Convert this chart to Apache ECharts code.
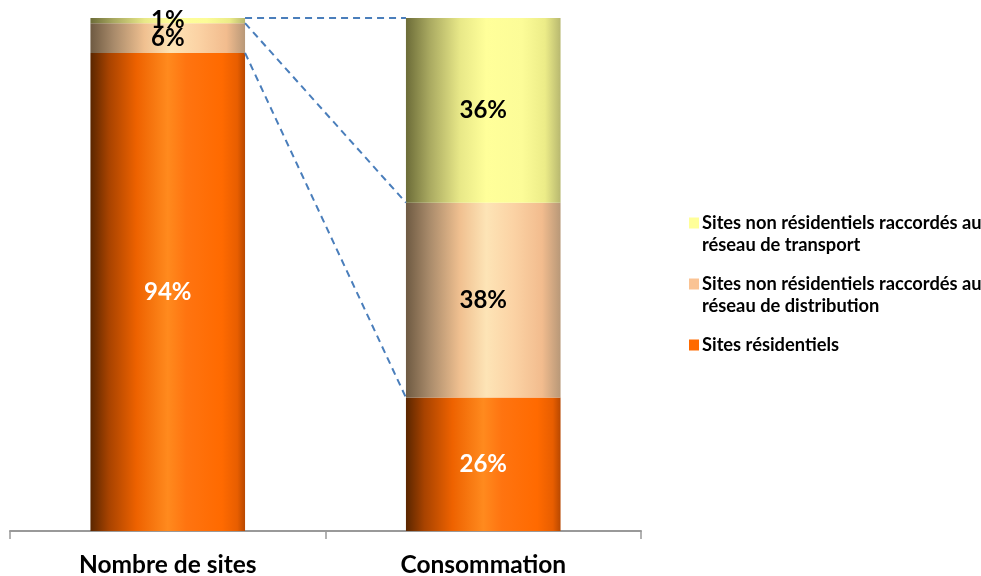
<!DOCTYPE html>
<html><head><meta charset="utf-8">
<script src="https://cdn.jsdelivr.net/npm/echarts@6/dist/echarts.min.js"></script>
<style>html,body{margin:0;padding:0;background:#fff}#c{width:981px;height:576px}</style>
</head><body><div id="c"></div>
<script>
var categories = ['Nombre de sites', 'Consommation'];
var seriesNames = [
  'Sites résidentiels',
  'Sites non résidentiels raccordés au\nréseau de distribution',
  'Sites non résidentiels raccordés au\nréseau de transport'
];
var residentiel = [93.2, 26];
var distribution = [5.8, 38];
var transport = [1.0, 36];
var labelsResidentiel = ['94%', '26%'];
var labelsDistribution = ['6%', '38%'];
var labelsTransport = ['1%', '36%'];

var FONT = 'Lato, "Open Sans", sans-serif';
function grad(stops){
  return new echarts.graphic.LinearGradient(0,0,1,0, stops.map(function(s){return {offset:s[0],color:s[1]};}));
}
var orangeG = grad([[0,'#5a2600'],[0.12,'#a84300'],[0.3,'#ee6200'],[0.5,'#ff8a1e'],[0.62,'#ff7410'],[0.85,'#ff6a00'],[0.95,'#e85e00'],[1,'#b84800']]);
var peachG = grad([[0,'#6e5a42'],[0.15,'#a88a6a'],[0.35,'#f0c090'],[0.52,'#fde4b6'],[0.7,'#fbd2a4'],[0.88,'#f2bc8e'],[1,'#b89878']]);
var yellowG = grad([[0,'#6c6c38'],[0.15,'#a8a860'],[0.35,'#e8e888'],[0.52,'#ffff9a'],[0.75,'#fcfc98'],[0.9,'#ecec88'],[1,'#b8b870']]);
var legendColors = ['#ff6a00', '#fac394', '#ffff99'];

function mkBar(name, data, labels, fill, labelColor){
  return {
    type:'bar', name:name, stack:'s', barWidth:'49%',
    data:data,
    itemStyle:{color:fill},
    label:{show:true, position:'inside', color:labelColor, fontFamily:FONT, fontWeight:'bold', fontSize:24,
      formatter:function(p){return labels[p.dataIndex];}},
    emphasis:{disabled:true}
  };
}

var cumL1 = residentiel[0], cumL2 = residentiel[0]+distribution[0], cumL3 = cumL2 + transport[0];
var cumR1 = residentiel[1], cumR2 = residentiel[1]+distribution[1], cumR3 = cumR2 + transport[1];
var connectors = [[0, cumL1, 1, cumR1],[0, cumL2, 1, cumR2],[0, cumL3, 1, cumR3]];

var rich = {
  sq0:{width:10,height:11,backgroundColor:legendColors[2], verticalAlign:'middle'},
  sq1:{width:10,height:11,backgroundColor:legendColors[1], verticalAlign:'middle'},
  sq2:{width:10,height:11,backgroundColor:legendColors[0], verticalAlign:'middle'},
  t:{fontFamily:FONT, fontWeight:'bold', fontSize:18.3, color:'#000', lineHeight:22, padding:[0,0,0,3]},
  p:{width:10}
};
var legendOrder = [seriesNames[2], seriesNames[1], seriesNames[0]];

var chart = echarts.init(document.getElementById('c'));
chart.setOption({
  animation:false,
  grid:{left:10, right:340, top:18, bottom:45, containLabel:false, outerBoundsMode:'none'},
  xAxis:{type:'category', data:categories,
    axisLine:{lineStyle:{color:'#999', width:2}},
    axisTick:{show:true, length:8, lineStyle:{color:'#999', width:1.5}},
    axisLabel:{color:'#000', fontFamily:FONT, fontWeight:'bold', fontSize:24.5, margin:22}},
  yAxis:{type:'value', min:0, max:100, show:false, splitLine:{show:false}},
  legend:{orient:'vertical', left:684, top:212, padding:0, itemGap:17, icon:'none', itemWidth:0, itemHeight:0,
    selectedMode:false,
    data:legendOrder,
    formatter:function(n){
      var i = legendOrder.indexOf(n);
      var lines = n.split('\n');
      var s = '{sq'+i+'|}{t|'+lines[0]+'}';
      for (var k=1;k<lines.length;k++) s += '\n{p|}{t|'+lines[k]+'}';
      return s;
    },
    textStyle:{rich:rich, lineHeight:22}
  },
  series:[
    mkBar(seriesNames[0], residentiel, labelsResidentiel, orangeG, '#fff'),
    mkBar(seriesNames[1], distribution, labelsDistribution, peachG, '#000'),
    mkBar(seriesNames[2], transport, labelsTransport, yellowG, '#000'),
    {
      type:'custom', silent:true, z:5,
      data:connectors,
      encode:{x:[0,2], y:[1,3]},
      renderItem:function(params, api){
        var band = api.size([1,0])[0];
        var half = band*0.49/2;
        var a = api.coord([api.value(0), api.value(1)]);
        var b = api.coord([api.value(2), api.value(3)]);
        return {type:'line', shape:{x1:a[0]+half, y1:a[1], x2:b[0]-half, y2:b[1]},
          style:{stroke:'#4a7ebb', lineWidth:2, lineDash:[7,5]}};
      }
    }
  ]
});
</script></body></html>
